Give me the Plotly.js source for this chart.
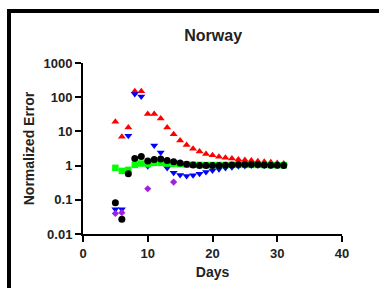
<!DOCTYPE html>
<html>
<head>
<meta charset="utf-8">
<script src="https://cdn.plot.ly/plotly-3.0.1.min.js"></script>
<style>
  html, body { margin: 0; padding: 0; background: #fff; }
  #frame { position: absolute; left: 7px; top: 9px; width: 380px; height: 290px;
           border-left: 4px solid #000; border-top: 4px solid #000; }
  #chart { position: absolute; left: 0; top: 0; width: 379px; height: 288px; }
</style>
</head>
<body>
<div id="frame"></div>
<div id="chart"></div>
<script>
// Days for each series
const daysRed   = [5,6,7,8,9,10,11,12,13,14,15,16,17,18,19,20,21,22,23,24,25,26,27,28,29,30,31];
const valsRed   = [19,7,13,150,150,32,32,24,13,8.3,5.4,4,3.1,2.6,2.2,2.0,1.8,1.7,1.6,1.5,1.45,1.4,1.35,1.3,1.25,1.2,1.15];

const daysBlue  = [5,6,7,8,9,10,11,12,13,14,15,16,17,18,19,20,21,22,23,24,25,26,27,28,29,30,31];
const valsBlue  = [0.053,0.053,7.5,125,105,0.95,3.9,2.4,0.85,0.62,0.53,0.5,0.52,0.58,0.65,0.72,0.78,0.85,0.9,0.95,0.98,1.0,1.0,1.0,1.0,1.0,1.0];

const daysGreen = [5,6,7,8,9,10,11,12,13,14,15,16,17,18,19,20,21,22,23,24,25,26,27,28,29,30,31];
const valsGreen = [0.86,0.7,0.75,1.05,1.15,1.1,1.2,1.2,1.15,1.12,1.1,1.08,1.06,1.05,1.04,1.04,1.04,1.04,1.05,1.05,1.05,1.05,1.05,1.04,1.04,1.03,1.03];

const daysBlack = [5,6,7,8,9,10,11,12,13,14,15,16,17,18,19,20,21,22,23,24,25,26,27,28,29,30,31];
const valsBlack = [0.082,0.027,0.58,1.62,1.85,1.37,1.5,1.55,1.4,1.3,1.2,1.1,1.05,1.0,1.0,1.0,1.0,1.02,1.05,1.07,1.08,1.08,1.07,1.05,1.03,1.02,1.0];

const daysPurple = [5,6,10,14];
const valsPurple = [0.04,0.042,0.21,0.33];

const xTickVals = [0,10,20,30,40];
const yTickVals = [0.01,0.1,1,10,100,1000];
const yTickText = ['0.01','0.1','1','10','100','1000'];

const mk = (x, y, symbol, color, size) => ({
  x: x, y: y, type: 'scatter', mode: 'markers', hoverinfo: 'none',
  marker: { symbol: symbol, color: color, size: size, line: { width: 0 } }
});

const traces = [
  mk(daysRed, valsRed, 'triangle-up', '#ff0000', 7),
  mk(daysBlue, valsBlue, 'triangle-down', '#0000ff', 7),
  mk(daysGreen, valsGreen, 'square', '#00ff00', 6.5),
  mk(daysBlack, valsBlack, 'circle', '#000000', 7),
  mk(daysPurple, valsPurple, 'diamond', '#a020e0', 5.5)
];

const fontFam = 'Arial, "Liberation Sans", sans-serif';
const txtCol = '#222222';
const layout = {
  width: 379, height: 288,
  margin: { l: 83, r: 37, t: 63, b: 54, pad: 0 },
  paper_bgcolor: 'rgba(0,0,0,0)',
  plot_bgcolor: 'rgba(0,0,0,0)',
  showlegend: false,
  font: { family: fontFam, color: txtCol },
  title: { text: '<b>Norway</b>', font: { size: 16, family: fontFam, color: txtCol },
           x: 0.5625, xanchor: 'center', y: 0.878, yanchor: 'middle' },
  xaxis: {
    range: [0, 40], tickvals: xTickVals, ticktext: xTickVals.map(v => '<b>' + v + '</b>'),
    showgrid: false, zeroline: false, showline: true, linecolor: '#000', linewidth: 2,
    ticks: 'outside', ticklen: 6, tickwidth: 2, tickcolor: '#000',
    tickfont: { size: 13, family: fontFam, color: txtCol },
    title: { text: '<b>Days</b>', font: { size: 14, family: fontFam, color: txtCol }, standoff: 8 }
  },
  yaxis: {
    type: 'log', range: [-2, 3], tickvals: yTickVals, ticktext: yTickText.map(t => '<b>' + t + '</b>'),
    showgrid: false, zeroline: false, showline: true, linecolor: '#000', linewidth: 2,
    ticks: 'outside', ticklen: 6, tickwidth: 2, tickcolor: '#000',
    tickfont: { size: 13, family: fontFam, color: txtCol },
    title: { text: '<b>Normalized Error</b>', font: { size: 14, family: fontFam, color: txtCol }, standoff: 6 }
  }
};

Plotly.newPlot('chart', traces, layout, { staticPlot: true, displayModeBar: false });
</script>
</body>
</html>
